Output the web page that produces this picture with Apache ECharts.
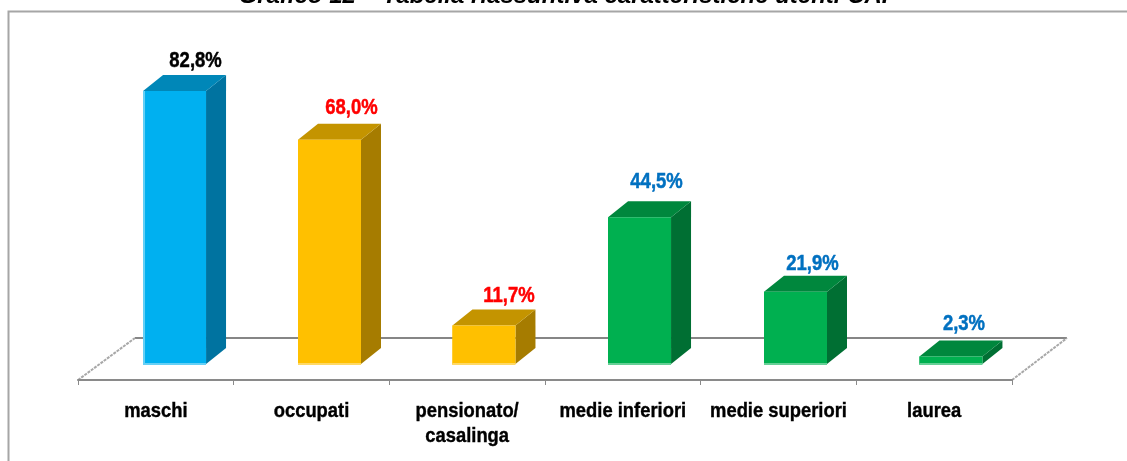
<!DOCTYPE html>
<html><head><meta charset="utf-8">
<style>html,body{margin:0;padding:0;background:#fff}#c{width:1127px;height:461px}</style>
<script src="https://cdn.jsdelivr.net/npm/echarts@6/dist/echarts.min.js"></script>
</head><body><div id="c"></div>
<script>
const categories = ['maschi','occupati','pensionato/\ncasalinga','medie inferiori','medie superiori','laurea'];
const values = [82.8,68.0,11.7,44.5,21.9,2.3];
const valueLabels = ['82,8%','68,0%','11,7%','44,5%','21,9%','2,3%'];
const FONT = '"Liberation Sans",Arial,sans-serif';
const labelColors = ['#000000','#ff0000','#ff0000','#0070c0','#0070c0','#0070c0'];
const BLUE = {front:'#00b0f0',top:'#0087b8',side:'#0073a0',edge:'#66d0f6',left:'#66d0f6'};
const GOLD = {front:'#ffc000',top:'#c49400',side:'#a67c00',edge:'#ffd966',left:'#ffc000'};
const GREEN = {front:'#00b050',top:'#00873d',side:'#006f33',edge:'#66d096',left:'#00b050'};
const palettes = [BLUE,GOLD,GOLD,GREEN,GREEN,GREEN];
const barShift = [18.7,18,16.8,16.7,17,16.8];
const labelNudgeX = [21,22,25,17,17,13];
const labelNudgeY = [-30,-32,-29,-35,-28,-32];
const AXIS_L=78, AXIS_R=1012, DX=20, DY=16, LIFT=16, BAR_W=63;
const chart = echarts.init(document.getElementById('c'),null,{renderer:'canvas'});
function renderBar(params, api){
  const i = api.value(0);
  const p0 = api.coord([i,0]), p1 = api.coord([i,api.value(1)]);
  const cx = p0[0]+barShift[i], x0 = cx-BAR_W/2, x1 = cx+BAR_W/2;
  const yb = p0[1]-LIFT, yt = p1[1]-LIFT;
  const c = palettes[i];
  const poly=(pts,fill)=>({type:'polygon',shape:{points:pts},style:{fill}});
  return {type:'group',children:[
    poly([[x1,yt],[x1+DX,yt-DY],[x1+DX,yb-DY],[x1,yb]],c.side),
    poly([[x0,yt],[x0+DX,yt-DY],[x1+DX,yt-DY],[x1,yt]],c.top),
    {type:'rect',shape:{x:x0,y:yt,width:BAR_W,height:yb-yt},style:{fill:c.front}},
    {type:'rect',shape:{x:x0,y:yt,width:2,height:yb-yt+1},style:{fill:c.left}},
    {type:'rect',shape:{x:x0,y:yb-1,width:BAR_W,height:2},style:{fill:c.edge}},
    {type:'text',x:cx+labelNudgeX[i],y:yt+labelNudgeY[i],scaleX:0.84,
      style:{text:valueLabels[i],x:0,y:0,align:'center',verticalAlign:'middle',
      fill:labelColors[i],stroke:labelColors[i],lineWidth:0.5,font:'bold 22px '+FONT}},
    {type:'text',x:p0[0],y:p0[1]+19,scaleX:0.875,
      style:{text:categories[i],x:0,y:0,align:'center',verticalAlign:'top',
      fill:'#000',stroke:'#000',lineWidth:0.4,font:'bold 21px '+FONT,lineHeight:25}}
  ]};
}
const wallLine = {stroke:'#a8a8a8',lineWidth:2,lineDash:[3,1]};
chart.setOption({
  animation:false,
  backgroundColor:'#ffffff',
  title:{text:'Grafico 12 – Tabella riassuntiva caratteristiche utenti CAI',left:'center',top:-21,
    textStyle:{fontFamily:FONT,fontStyle:'italic',fontWeight:'bold',fontSize:24,color:'#000'}},
  grid:{left:AXIS_L,width:AXIS_R-AXIS_L,top:50.3,height:329.7},
  xAxis:{type:'category',data:categories,
    axisLine:{lineStyle:{color:'#8a8a8a',width:2}},
    axisTick:{show:true,alignWithLabel:false,length:5,lineStyle:{color:'#8a8a8a',width:1}},
    axisLabel:{show:false}},
  yAxis:{type:'value',min:0,max:100,show:false,splitLine:{show:false}},
  graphic:[
    {type:'polyline',z:0,shape:{points:[[8.5,461],[8.5,11.5],[1127,11.5]]},style:{fill:null,stroke:'#a6a6a6',lineWidth:2}},
    {type:'line',z:0,shape:{x1:135,y1:338,x2:1067,y2:338},style:{stroke:'#868686',lineWidth:2}},
    {type:'line',z:0,shape:{x1:78,y1:380,x2:135,y2:338},style:wallLine},
    {type:'line',z:0,shape:{x1:1012,y1:380,x2:1067,y2:338},style:wallLine}
  ],
  series:[{type:'custom',renderItem:renderBar,clip:false,
    encode:{x:0,y:1},data:values.map((v,i)=>[i,v])}]
});
</script></body></html>
